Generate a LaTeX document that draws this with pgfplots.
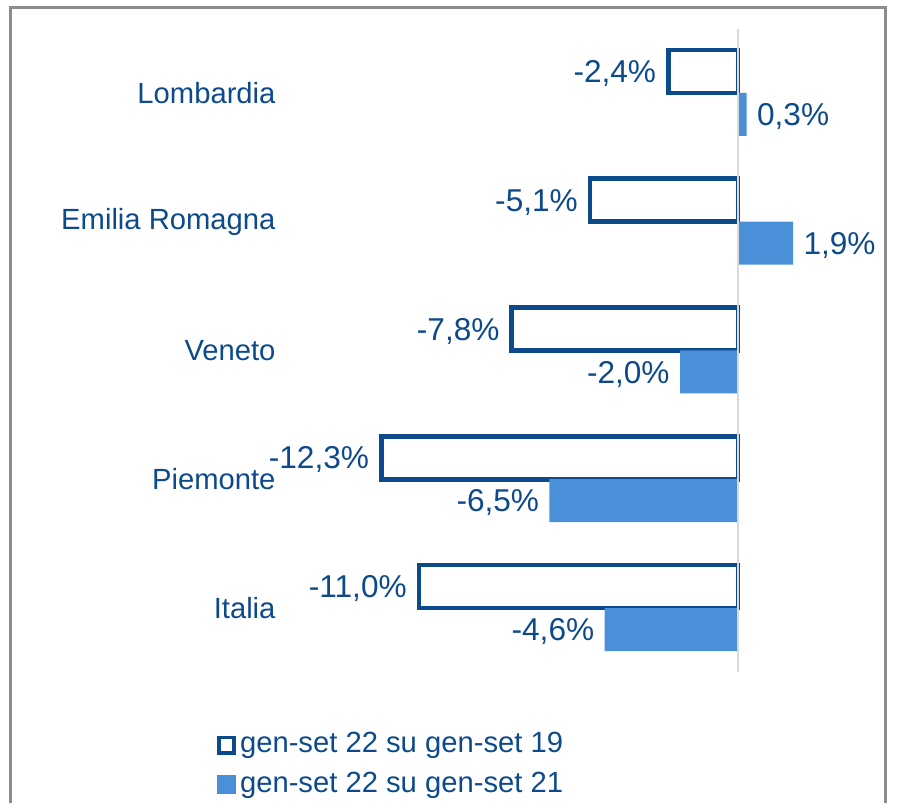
\documentclass[border=0pt]{standalone}
\usepackage{fontspec}
\setmainfont{Liberation Sans}
\usepackage{pgfplots}
\usepackage{pgfplotstable}
\pgfplotsset{compat=1.18}
\definecolor{dblue}{HTML}{0D4A8C}
\definecolor{lblue}{HTML}{4A90D9}
\definecolor{framegray}{HTML}{8C8C8C}
\definecolor{zerogray}{HTML}{D9D9D9}

\pgfplotstableread{
y x label
4 -2.4 {-2,4\%}
3 -5.1 {-5,1\%}
2 -7.8 {-7,8\%}
1 -12.3 {-12,3\%}
0 -11.0 {-11,0\%}
}\tabA
\pgfplotstableread{
y x label
4 0.3 {0,3\%}
3 1.9 {1,9\%}
2 -2.0 {-2,0\%}
1 -6.5 {-6,5\%}
0 -4.6 {-4,6\%}
}\tabB

\begin{document}
\fontsize{14.6}{17.5}\selectfont
\begin{tikzpicture}
\useasboundingbox (-369pt,-97pt) rectangle (79.5pt,304pt);
\draw[framegray, line width=1.5pt] (-363.5pt,-130pt) rectangle (73.5pt,300pt);
\begin{axis}[
  at={(0,0)}, anchor=origin,
  x=14.5pt, y=64.375pt,
  xmin=-15.6, xmax=5.07, ymin=-0.5, ymax=4.5,
  axis line style={draw=none},
  xtick=\empty, ytick={0,1,2,3,4},
  yticklabels={Italia,Piemonte,Veneto,Emilia Romagna,Lombardia},
  major tick length=0pt,
  yticklabel style={font=\fontsize{14.6}{17.5}\selectfont, text=dblue},
  xbar, bar width=21.5pt,
  clip=false,
  point meta=explicit symbolic,
  visualization depends on=rawx \as \myx,
  nodes near coords,
  nodes near coords style={font=\fontsize{15.8}{19}\selectfont, text=dblue, inner sep=5pt,
    anchor={\ifdim\myx pt<0pt east\else west\fi}, yshift=-1pt},
  legend style={draw=none, fill=none, at={(rel axis cs:-0.125,-0.080)}, anchor=north west,
    font=\fontsize{14.6}{17.5}\selectfont, text=dblue, row sep=3.5pt},
  legend cell align=left,
]
\addplot[draw=dblue, fill=white, line width=2.3pt, bar shift=10.75pt,
  legend image code/.code={\draw[dblue, fill=white, line width=1.8pt] (0.9pt,-4.1pt) rectangle (8.6pt,3.6pt);}]
  table[x=x, y=y, meta=label] {\tabA};
\addlegendentry{gen-set 22 su gen-set 19}
\addplot[draw=none, fill=lblue, bar shift=-10.75pt,
  legend image code/.code={\fill[lblue] (0pt,-5pt) rectangle (9.5pt,4.5pt);}]
  table[x=x, y=y, meta=label] {\tabB};
\addlegendentry{gen-set 22 su gen-set 21}
\draw[zerogray, line width=1pt] (axis cs:0,-0.5) -- (axis cs:0,4.5);
\end{axis}
\end{tikzpicture}
\end{document}
